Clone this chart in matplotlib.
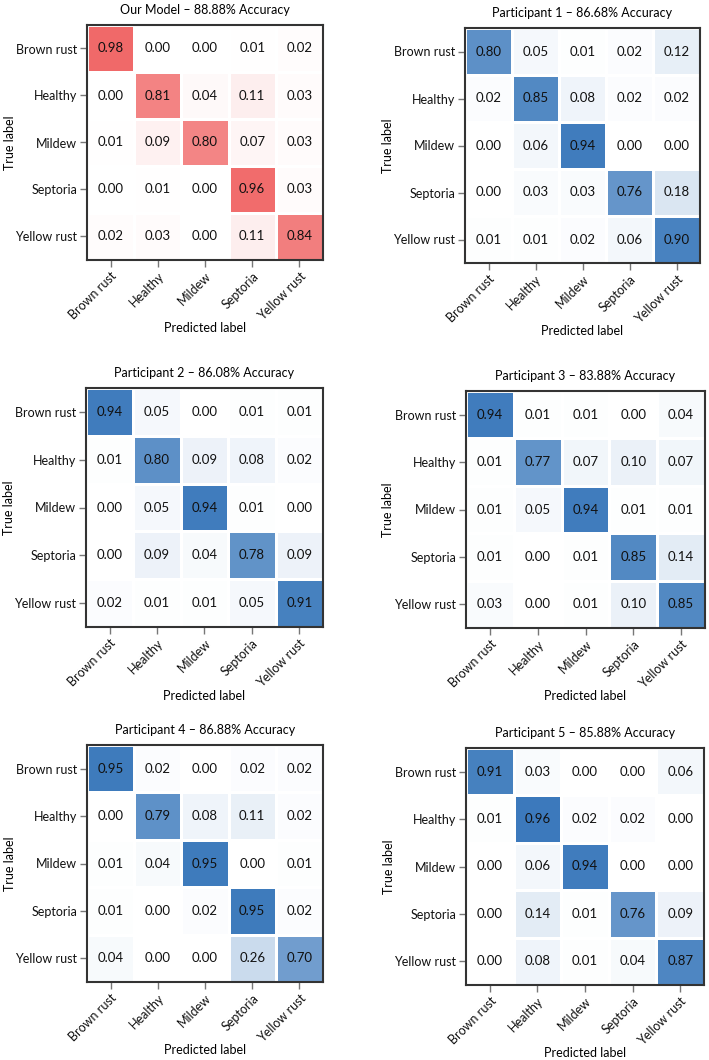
import matplotlib.pyplot as plt
import numpy as np
from matplotlib.colors import LinearSegmentedColormap

plt.rcParams['font.family'] = ['Lato', 'DejaVu Sans']

classes = ['Brown rust', 'Healthy', 'Mildew', 'Septoria', 'Yellow rust']

titles = ['Our Model \u2013 88.88% Accuracy',
          'Participant 1 \u2013 86.68% Accuracy',
          'Participant 2 \u2013 86.08% Accuracy',
          'Participant 3 \u2013 83.88% Accuracy',
          'Participant 4 \u2013 86.88% Accuracy',
          'Participant 5 \u2013 85.88% Accuracy']

cm_model = [[0.98, 0.00, 0.00, 0.01, 0.02],
            [0.00, 0.81, 0.04, 0.11, 0.03],
            [0.01, 0.09, 0.80, 0.07, 0.03],
            [0.00, 0.01, 0.00, 0.96, 0.03],
            [0.02, 0.03, 0.00, 0.11, 0.84]]

cm_p1 = [[0.80, 0.05, 0.01, 0.02, 0.12],
         [0.02, 0.85, 0.08, 0.02, 0.02],
         [0.00, 0.06, 0.94, 0.00, 0.00],
         [0.00, 0.03, 0.03, 0.76, 0.18],
         [0.01, 0.01, 0.02, 0.06, 0.90]]

cm_p2 = [[0.94, 0.05, 0.00, 0.01, 0.01],
         [0.01, 0.80, 0.09, 0.08, 0.02],
         [0.00, 0.05, 0.94, 0.01, 0.00],
         [0.00, 0.09, 0.04, 0.78, 0.09],
         [0.02, 0.01, 0.01, 0.05, 0.91]]

cm_p3 = [[0.94, 0.01, 0.01, 0.00, 0.04],
         [0.01, 0.77, 0.07, 0.10, 0.07],
         [0.01, 0.05, 0.94, 0.01, 0.01],
         [0.01, 0.00, 0.01, 0.85, 0.14],
         [0.03, 0.00, 0.01, 0.10, 0.85]]

cm_p4 = [[0.95, 0.02, 0.00, 0.02, 0.02],
         [0.00, 0.79, 0.08, 0.11, 0.02],
         [0.01, 0.04, 0.95, 0.00, 0.01],
         [0.01, 0.00, 0.02, 0.95, 0.02],
         [0.04, 0.00, 0.00, 0.26, 0.70]]

cm_p5 = [[0.91, 0.03, 0.00, 0.00, 0.06],
         [0.01, 0.96, 0.02, 0.02, 0.00],
         [0.00, 0.06, 0.94, 0.00, 0.00],
         [0.00, 0.14, 0.01, 0.76, 0.09],
         [0.00, 0.08, 0.01, 0.04, 0.87]]

matrices = [cm_model, cm_p1, cm_p2, cm_p3, cm_p4, cm_p5]

reds = LinearSegmentedColormap.from_list('reds', ['#ffffff', '#f06666'])
blues = LinearSegmentedColormap.from_list('blues', ['#ffffff', '#3474b9'])

# axes boxes in pixels: x0, x1, y0, y1
W, H = 709, 1060
boxes = [(87, 323, 25, 260), (465, 700, 28, 263),
         (86, 323, 388, 627), (466, 705, 391, 628),
         (87, 323, 745, 982), (466, 704, 748, 985)]

fig = plt.figure(figsize=(W / 100, H / 100), dpi=100)

for i, (cm, title, box) in enumerate(zip(matrices, titles, boxes)):
    x0, x1, y0, y1 = box
    ax = fig.add_axes([x0 / W, 1 - y1 / H, (x1 - x0) / W, (y1 - y0) / H])
    cm = np.array(cm)
    cmap = reds if i == 0 else blues
    ax.pcolormesh(cm, cmap=cmap, vmin=0, vmax=1, edgecolors='white', linewidth=1.0)
    ax.set_xlim(0, 5)
    ax.set_ylim(5, 0)
    for r in range(5):
        for c in range(5):
            ax.text(c + 0.5, r + 0.5, '%.2f' % cm[r, c], ha='center', va='center',
                    fontsize=9.5, color='#111111')
    ax.set_xticks(np.arange(5) + 0.5)
    ax.set_yticks(np.arange(5) + 0.5)
    ax.set_xticklabels(classes, rotation=45, ha='right', rotation_mode='anchor', fontsize=9)
    ax.set_yticklabels(classes, fontsize=9)
    ax.tick_params(length=5, width=1, color='#777777', labelcolor='#111111', pad=2)
    for s in ax.spines.values():
        s.set_linewidth(1.5)
        s.set_color('#333333')
    ax.set_title(title, fontsize=9, pad=8)
    ax.set_xlabel('Predicted label', fontsize=9)
    ax.set_ylabel('True label', fontsize=9)
    ax.xaxis.set_label_coords(0.5, -0.262)
    ax.yaxis.set_label_coords(-0.3, 0.5)

plt.savefig('out.png', dpi=100)
